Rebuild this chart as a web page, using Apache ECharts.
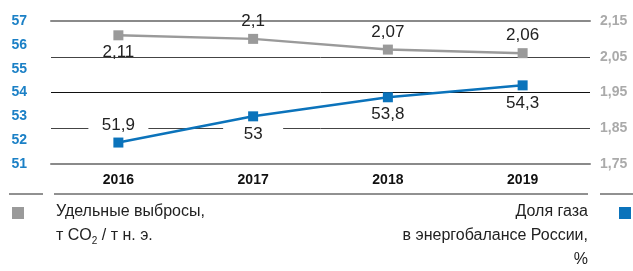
<!DOCTYPE html>
<html>
<head>
<meta charset="utf-8">
<script src="https://cdn.jsdelivr.net/npm/echarts@6/dist/echarts.min.js"></script>
<style>
  html, body { margin: 0; padding: 0; background: #fff; }
  #chart { width: 633px; height: 271px; }
</style>
</head>
<body>
<div id="chart"></div>
<script>
const years = ['2016', '2017', '2018', '2019']
const emissions = [2.11, 2.1, 2.07, 2.06]   // т CO2 / т н. э. (правая ось)
const gasShare = [51.9, 53, 53.8, 54.3]     // % (левая ось)
const emissionsLabelPos = ['bottom', 'top', 'top', 'top']
const gasLabelPos = ['top', 'bottom', 'bottom', 'bottom']

const FONT = '"Liberation Sans", Arial, sans-serif'
const BLUE = '#0b73bb'
const GREY = '#9a9a9a'

const fmt = v => String(v).replace('.', ',')

const chart = echarts.init(document.getElementById('chart'))

chart.setOption({
  backgroundColor: '#fff',
  animation: false,
  grid: { left: 51, right: 43, top: 21, bottom: 107 },
  xAxis: [
    {
      type: 'category',
      data: years,
      axisTick: { show: false },
      axisLine: { lineStyle: { color: '#8a8a8a', width: 2 } },
      axisLabel: { color: '#111', fontWeight: 'bold', fontSize: 14, fontFamily: FONT, margin: 9 }
    },
    {
      type: 'category',
      data: years,
      position: 'top',
      axisTick: { show: false },
      axisLabel: { show: false },
      axisLine: { lineStyle: { color: '#8a8a8a', width: 2 } }
    }
  ],
  yAxis: [
    {
      type: 'value',
      min: 51, max: 57, interval: 1,
      splitLine: { show: false },
      axisLine: { show: false },
      axisTick: { show: false },
      axisLabel: { color: '#1b80c6', fontWeight: 'bold', fontSize: 14, fontFamily: FONT, margin: 24 }
    },
    {
      type: 'value',
      min: 1.75, max: 2.15, interval: 0.1,
      position: 'right',
      axisLine: { show: false },
      axisTick: { show: false },
      splitLine: { lineStyle: { color: ['#8a8a8a', '#444', '#111', '#444', '#8a8a8a'], width: 1 } },
      axisLabel: {
        color: '#aaa', fontWeight: 'bold', fontSize: 14, fontFamily: FONT, margin: 10,
        formatter: v => v.toFixed(2).replace('.', ',')
      }
    }
  ],
  series: [
    {
      type: 'line',
      yAxisIndex: 1,
      data: emissions.map((v, i) => ({ value: v, label: { position: emissionsLabelPos[i] } })),
      symbol: 'rect', symbolSize: 10,
      lineStyle: { color: GREY, width: 2.5 },
      itemStyle: { color: GREY },
      label: {
        show: true, distance: 4, color: '#222', fontSize: 17, fontFamily: FONT,
        formatter: p => fmt(p.value)
      },
      z: 3
    },
    {
      type: 'line',
      yAxisIndex: 0,
      data: gasShare.map((v, i) => ({ value: v, label: { position: gasLabelPos[i] } })),
      symbol: 'rect', symbolSize: 10,
      lineStyle: { color: BLUE, width: 2.5 },
      itemStyle: { color: BLUE },
      label: {
        show: true, distance: 4, color: '#222', fontSize: 17, fontFamily: FONT,
        backgroundColor: '#fff', width: 60, align: 'center',
        formatter: p => fmt(p.value)
      },
      z: 4
    }
  ],
  graphic: [
    // разделитель под подписями лет
    { type: 'line', shape: { x1: 9, y1: 194, x2: 43, y2: 194 }, style: { stroke: '#222', lineWidth: 1 } },
    { type: 'line', shape: { x1: 54, y1: 194, x2: 588, y2: 194 }, style: { stroke: '#222', lineWidth: 1 } },
    { type: 'line', shape: { x1: 600, y1: 194, x2: 633, y2: 194 }, style: { stroke: '#222', lineWidth: 1 } },
    // легенда
    { type: 'rect', shape: { x: 12, y: 207, width: 12, height: 12 }, style: { fill: GREY } },
    { type: 'rect', shape: { x: 619, y: 207, width: 12, height: 12 }, style: { fill: BLUE } },
    {
      type: 'text', x: 56, y: 200,
      style: {
        text: 'Удельные выбросы,\nт CO{s|2} / т н. э.',
        font: '16px ' + FONT, fill: '#222', lineHeight: 24,
        rich: { s: { fontSize: 10, fontFamily: FONT, fill: '#222', padding: [10, 0, 0, 0] } }
      }
    },
    {
      type: 'text', x: 588, y: 200,
      style: {
        text: 'Доля газа\nв энергобалансе России,\n%',
        font: '16px ' + FONT, fill: '#222', lineHeight: 24, textAlign: 'right'
      }
    }
  ]
})
</script>
</body>
</html>
